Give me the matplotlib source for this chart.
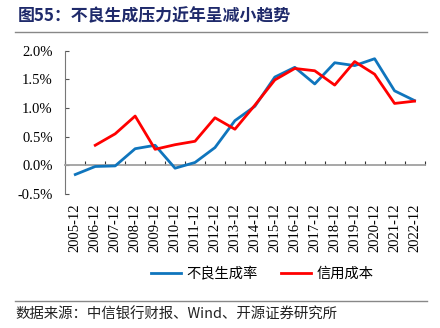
import matplotlib
matplotlib.use("Agg")
from matplotlib import pyplot as plt
from matplotlib.lines import Line2D

years = [f"{y}-12" for y in range(2005, 2023)]
npl_rate = [-0.16, -0.02, -0.01, 0.29, 0.35, -0.05, 0.05, 0.31, 0.78, 1.03,
            1.54, 1.71, 1.42, 1.79, 1.74, 1.86, 1.30, 1.13]
credit_cost = [None, 0.35, 0.55, 0.86, 0.28, 0.36, 0.42, 0.83, 0.63, 1.05,
               1.49, 1.69, 1.65, 1.40, 1.81, 1.59, 1.08, 1.12]
y_ticks = [-0.5, 0.0, 0.5, 1.0, 1.5, 2.0]

CJK = ["Noto Sans CJK SC", "DejaVu Sans"]
SERIF = ["Liberation Serif", "DejaVu Serif"]


def main() -> None:
    fig = plt.figure(figsize=(4.4, 3.28), dpi=100)
    W, H = 440, 328
    ax = fig.add_axes([65.3 / W, 1 - 194 / H, (424.5 - 65.3) / W, (194 - 50.7) / H])

    x = list(range(len(years)))
    cc_x = [i for i, v in zip(x, credit_cost) if v is not None]
    cc_y = [v for v in credit_cost if v is not None]

    ax.plot(x, npl_rate, color="#0F75BD", lw=2.0, label="不良生成率", zorder=3)
    ax.plot(cc_x, cc_y, color="#FF0000", lw=2.0, label="信用成本", zorder=3)

    ax.set_xlim(-0.5, len(years) - 0.5)
    ax.set_ylim(-0.5, 2.0)

    # y axis
    ax.set_yticks(y_ticks)
    ax.set_yticklabels([f"{v:.1f}%" for v in y_ticks], family=SERIF, fontsize=10.5)
    ax.tick_params(axis="y", direction="in", length=3, width=0.8, color="#555555", pad=9)

    # category axis drawn at zero, ticks between categories
    ax.spines["bottom"].set_position(("data", 0))
    ax.spines["bottom"].set_color("#A0A0A0")
    ax.spines["bottom"].set_linewidth(1.3)
    ax.spines["left"].set_color("#777777")
    ax.spines["left"].set_linewidth(0.8)
    ax.spines["top"].set_visible(False)
    ax.spines["right"].set_visible(False)
    ax.set_xticks([i + 0.5 for i in range(-1, len(years))])
    ax.set_xticklabels([])
    ax.tick_params(axis="x", direction="in", length=3, width=0.8, color="#333333")

    sec = ax.secondary_xaxis(0)
    sec.set_xticks(x)
    sec.set_xticklabels(years, rotation=90, family=SERIF, fontsize=10.5)
    sec.tick_params(length=0, pad=7)
    sec.spines["bottom"].set_visible(False)

    fig.legend(loc="center", bbox_to_anchor=(262 / W, 1 - 274 / H), ncol=2,
               frameon=False, prop={"family": CJK, "size": 10.3},
               handlelength=2.1, handletextpad=0.4, columnspacing=1.6)

    fig.text(18 / W, 1 - 16 / H, "图55：不良生成压力近年呈减小趋势", family=CJK,
             fontsize=12.2, fontweight="bold", color="#1F2A6B", va="center", ha="left")
    fig.text(15 / W, 1 - 315 / H, "数据来源：中信银行财报、Wind、开源证券研究所", family=CJK,
             fontsize=10.4, color="#222222", va="center", ha="left")

    for yy in (32, 301):
        fig.add_artist(Line2D([15 / W, 427 / W], [1 - yy / H, 1 - yy / H],
                              transform=fig.transFigure, color="#888888", lw=1.0))

    fig.savefig("out.png", dpi=100)


if __name__ == "__main__":
    main()
